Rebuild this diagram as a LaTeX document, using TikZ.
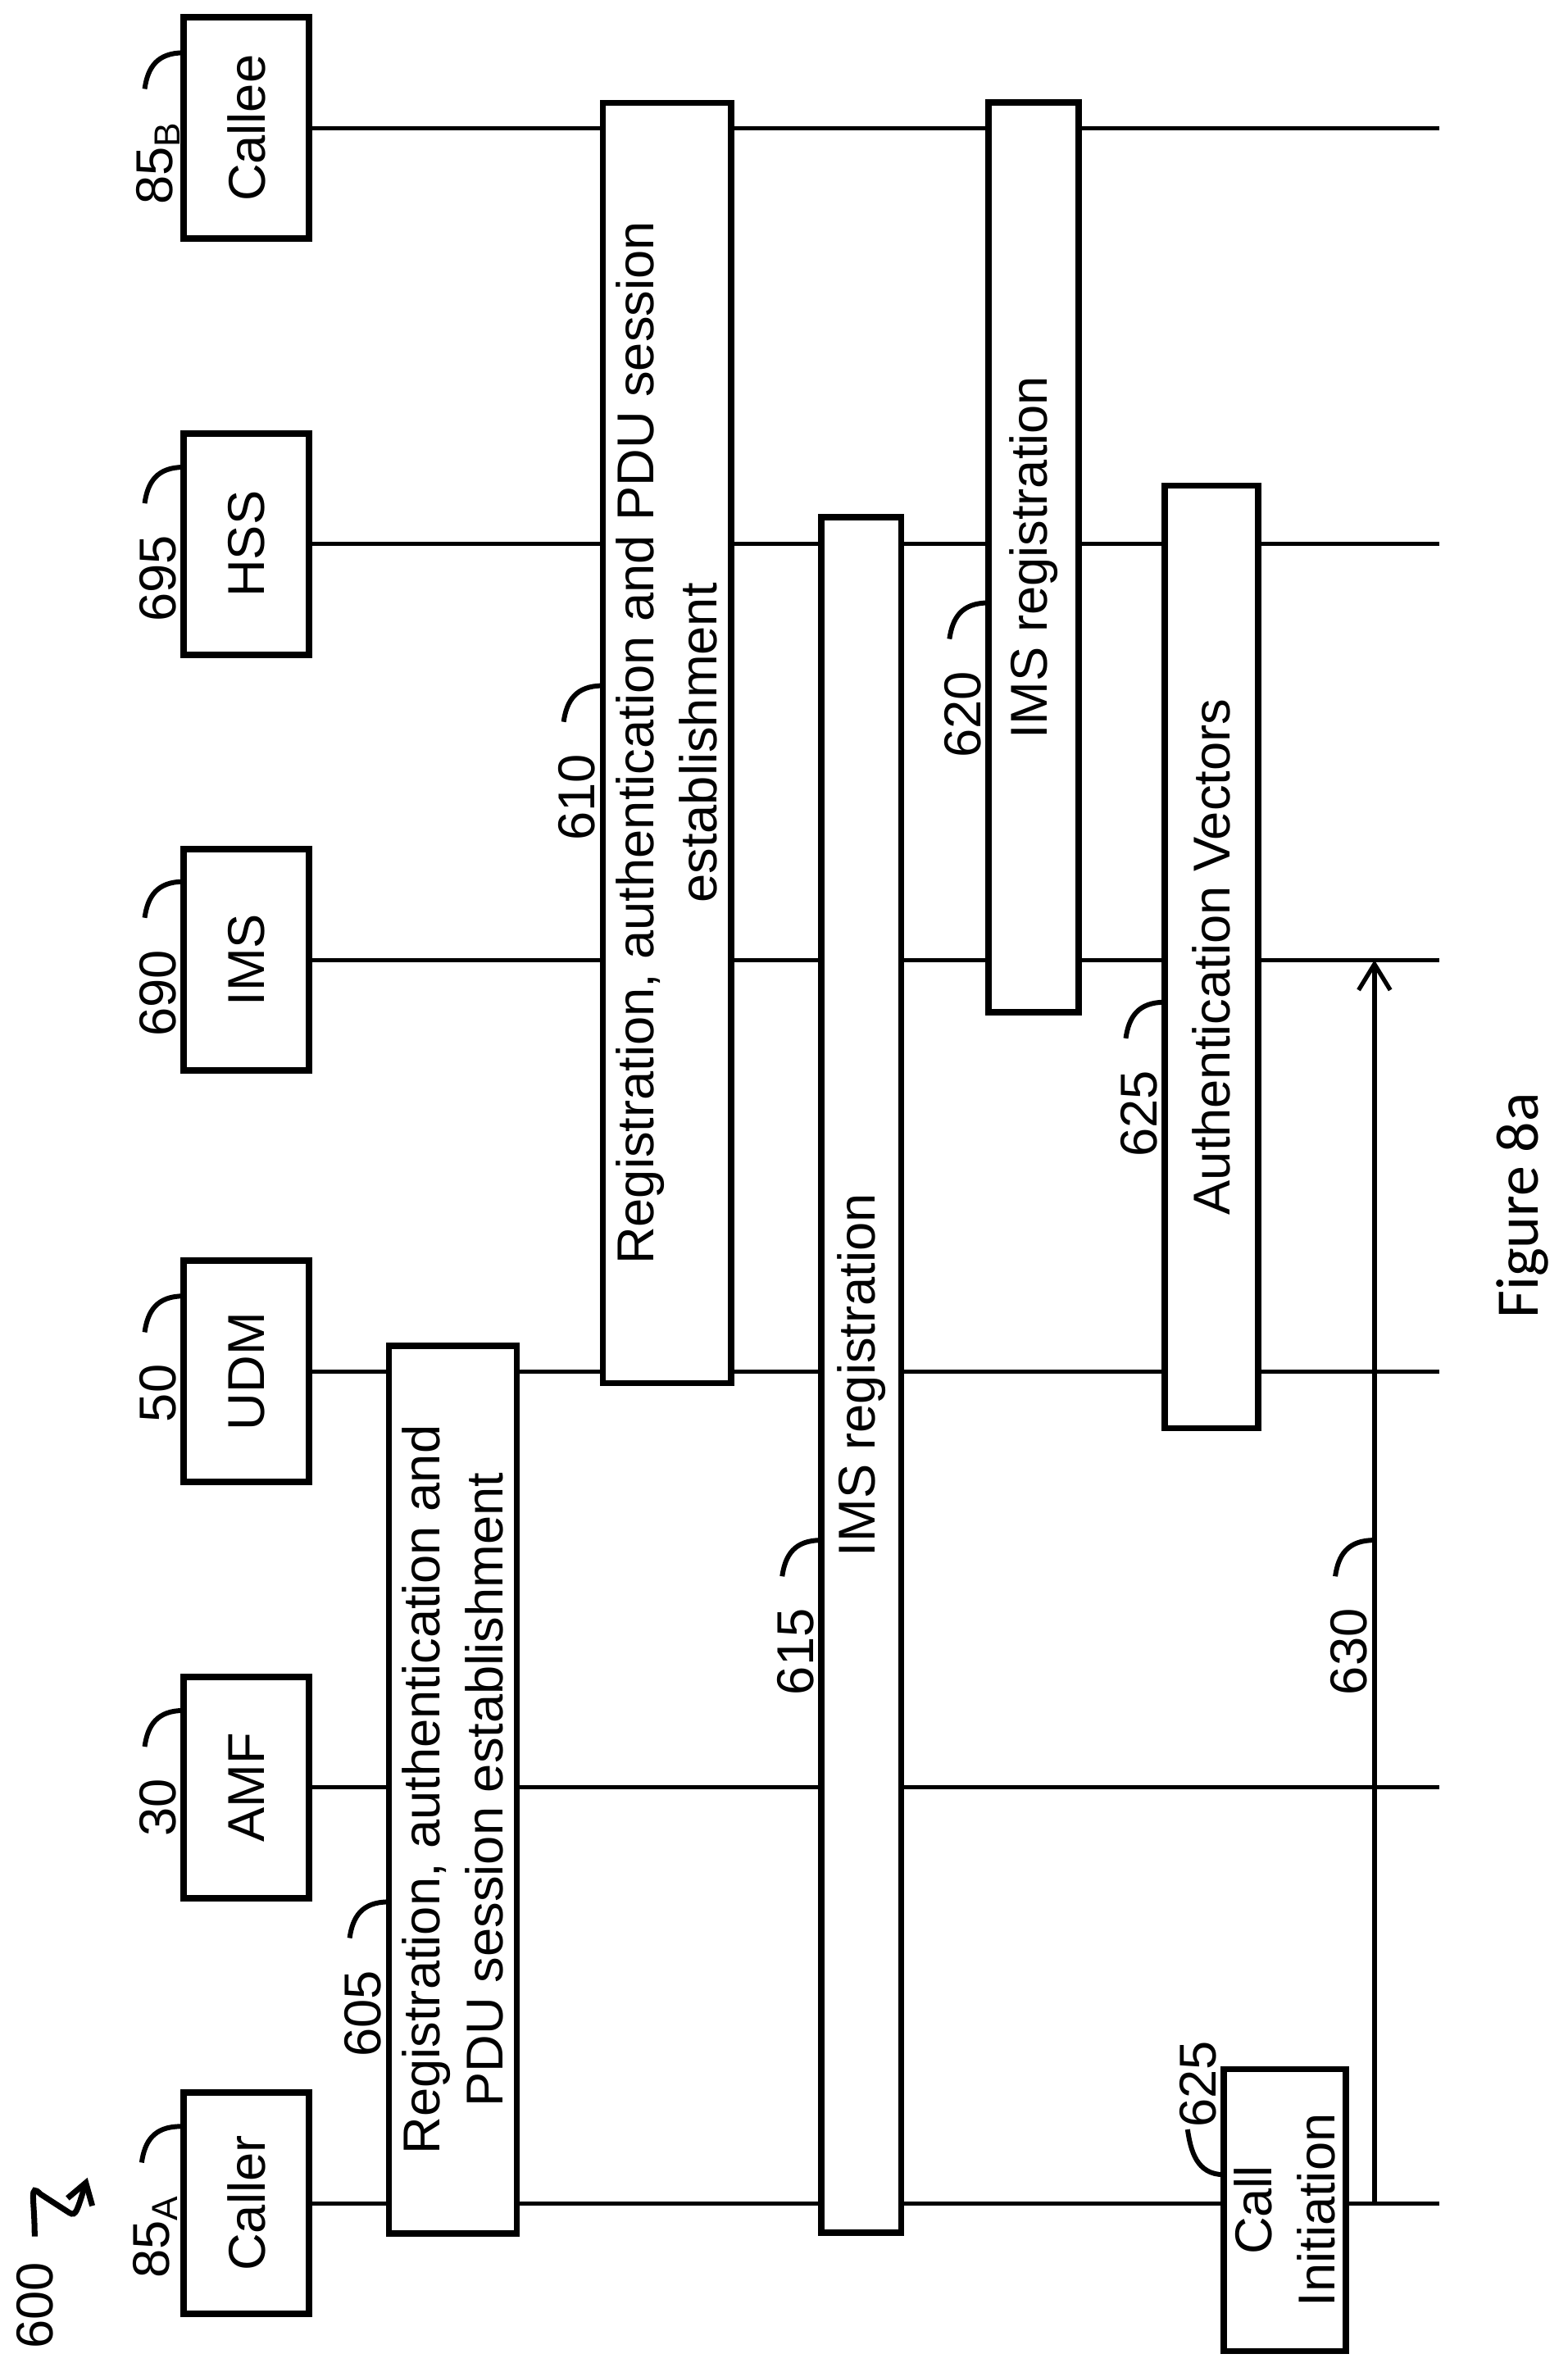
\documentclass[tikz,border=0pt]{standalone}
\usepackage{fontspec}
\setmainfont{Liberation Sans}
\newfontfamily\figfont{Carlito}
\usetikzlibrary{arrows.meta}

\tikzset{
  actor/.style={draw,line width=2.2pt,rectangle,rotate=90,minimum width=2.7cm,minimum height=1.53cm,inner sep=0pt},
  bar/.style={draw,fill=white,line width=2.2pt,rectangle,rotate=90,align=center,inner sep=0pt},
  life/.style={line width=1.5pt},
  hookline/.style={line width=1.7pt},
  reflab/.style={rotate=90,anchor=east,inner sep=0pt}
}
\newcommand\refmark[4]{%
  \coordinate (#1) at (#2,#3);
  \draw[hookline] (#1) .. controls +(-18,0) and +(2,-14) .. +(-26,24);
  \node[reflab] (#1-lab) at ([shift={(-17,45)}]#1) {#4};}
\newcommand\refmarkup[4]{%
  \coordinate (#1) at (#2,#3);
  \draw[hookline] (#1) .. controls +(-18,0) and +(2,14) .. +(-24,-30);
  \node[reflab,anchor=center] (#1-lab) at ([shift={(-17,-60)}]#1) {#4};}

\begin{document}
\fontsize{18}{22}\selectfont
\begin{tikzpicture}[x=0.01838cm,y=-0.01838cm]
\useasboundingbox (0,0) rectangle (1040,1568);
 % actors
  \node (caller) at (163.5,1462) [actor] {Caller};
  \node (amf)    at (163.5,1186) [actor] {AMF};
  \node (udm)    at (163.5,910)  [actor] {UDM};
  \node (ims)    at (163.5,637)  [actor] {IMS};
  \node (hss)    at (163.5,361)  [actor] {HSS};
  \node (callee) at (163.5,85)   [actor] {Callee};
 % lifelines
  \foreach \n in {caller,amf,udm,ims,hss,callee}
    \draw[life] (\n.south) -- ++(748,0) coordinate (\n-end);
 % bars
  \node (b605) at (300.5,1187.5) [bar,minimum width=10.83cm,minimum height=1.562cm]
    {Registration, authentication and\\PDU session establishment};
  \node (b610) at (442.5,493) [bar,minimum width=15.62cm,minimum height=1.562cm]
    {Registration, authentication and PDU session\\establishment};
  \node (b615) at (571.5,912.5) [bar,minimum width=20.93cm,minimum height=0.974cm] {IMS registration};
  \node (b620) at (686,370) [bar,minimum width=11.1cm,minimum height=1.1cm] {IMS registration};
  \node (b625) at (804,635) [bar,minimum width=11.5cm,minimum height=1.14cm] {Authentication Vectors};
  \node (call) at (852.5,1466.5) [bar,minimum width=3.44cm,minimum height=1.49cm] {Call\\Initiation};
 % message
  \coordinate (c630) at (912,1462);
  \draw[life,-{Straight Barb[length=9pt,width=11pt,line width=1.5pt]}] (c630) -- (c630 |- ims);
 % reference labels
  \refmark{r85a}{120}{1411}{85\textsubscript{A}}
  \refmark{r30}{122}{1135}{30}
  \refmark{r50}{122}{860}{50}
  \refmark{r690}{122}{585}{690}
  \refmark{r695}{122}{310}{695}
  \refmark{r85b}{122}{35}{85\textsubscript{B}}
  \refmark{r605}{258}{1262}{605}
  \refmark{r610}{400}{455}{610}
  \refmark{r615}{545}{1022}{615}
  \refmark{r620}{656}{400}{620}
  \refmark{r625}{773}{665}{625}
  \refmark{r630}{912}{1022}{630}
  \refmarkup{r625b}{812}{1443}{625}
 % figure number
  \node (n600) at (23,1530) [rotate=90] {600};
  \coordinate (s600) at (23,1484);
  \draw[line width=2pt,-{Straight Barb[length=7pt,width=9pt]}] (s600) .. controls +(0,-25) and +(-8,-8) .. ++(4,-28)
     -- ++(17,11) .. controls +(6,4) .. ++(14,-22);
  \node (fig) at (1010,800) [rotate=90] {\figfont\fontsize{21}{25}\selectfont Figure 8a};
\end{tikzpicture}
\end{document}
